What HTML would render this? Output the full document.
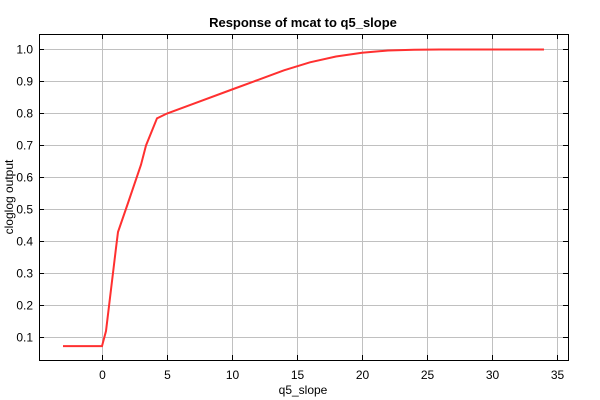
<!DOCTYPE html><html><head><style>body{margin:0;background:#fff}svg{display:block}text{font-family:"Liberation Sans",sans-serif;font-size:12px;fill:#000}</style></head><body>
<svg width="600" height="400" viewBox="0 0 600 400">
<rect width="600" height="400" fill="#fff"/>
<g stroke="#c0c0c0" stroke-width="1">
<line x1="102.5" y1="34" x2="102.5" y2="360"/><line x1="167.5" y1="34" x2="167.5" y2="360"/><line x1="232.5" y1="34" x2="232.5" y2="360"/><line x1="297.5" y1="34" x2="297.5" y2="360"/><line x1="362.5" y1="34" x2="362.5" y2="360"/><line x1="427.5" y1="34" x2="427.5" y2="360"/><line x1="492.5" y1="34" x2="492.5" y2="360"/><line x1="557.5" y1="34" x2="557.5" y2="360"/>
<line x1="39" y1="49.5" x2="568" y2="49.5"/><line x1="39" y1="81.5" x2="568" y2="81.5"/><line x1="39" y1="113.5" x2="568" y2="113.5"/><line x1="39" y1="145.5" x2="568" y2="145.5"/><line x1="39" y1="177.5" x2="568" y2="177.5"/><line x1="39" y1="209.5" x2="568" y2="209.5"/><line x1="39" y1="241.5" x2="568" y2="241.5"/><line x1="39" y1="273.5" x2="568" y2="273.5"/><line x1="39" y1="305.5" x2="568" y2="305.5"/><line x1="39" y1="337.5" x2="568" y2="337.5"/>
</g>
<rect x="39.5" y="34.5" width="529" height="326" fill="none" stroke="#000"/>
<g stroke="#000">
<path d="M102.5 360v-5M167.5 360v-5M232.5 360v-5M297.5 360v-5M362.5 360v-5M427.5 360v-5M492.5 360v-5M557.5 360v-5M102.5 34v5M167.5 34v5M232.5 34v5M297.5 34v5M362.5 34v5M427.5 34v5M492.5 34v5M557.5 34v5"/>
<path d="M39 49.5h5M39 81.5h5M39 113.5h5M39 145.5h5M39 177.5h5M39 209.5h5M39 241.5h5M39 273.5h5M39 305.5h5M39 337.5h5M568 49.5h-5M568 81.5h-5M568 113.5h-5M568 145.5h-5M568 177.5h-5M568 209.5h-5M568 241.5h-5M568 273.5h-5M568 305.5h-5M568 337.5h-5"/>
</g>
<polyline fill="none" stroke="#ff3030" stroke-width="2" points="63,346.1 102,346.1 106,331 111,289.5 116,248 118,232 128,203 141,164.7 146,145.5 157,118.3 167,113.5 193,103.9 232,89.5 258,79.9 284,70.3 310,62.3 336,56.5 362,52.7 388,50.5 414,49.7 440,49.5 544,49.5"/>
<g text-anchor="end"><text x="33" y="53.5">1.0</text><text x="33" y="85.5">0.9</text><text x="33" y="117.5">0.8</text><text x="33" y="149.5">0.7</text><text x="33" y="181.5">0.6</text><text x="33" y="213.5">0.5</text><text x="33" y="245.5">0.4</text><text x="33" y="277.5">0.3</text><text x="33" y="309.5">0.2</text><text x="33" y="341.5">0.1</text></g>
<g text-anchor="middle"><text x="102.5" y="379">0</text><text x="167.5" y="379">5</text><text x="232.5" y="379">10</text><text x="297.5" y="379">15</text><text x="362.5" y="379">20</text><text x="427.5" y="379">25</text><text x="492.5" y="379">30</text><text x="557.5" y="379">35</text>
<text x="303" y="394">q5_slope</text>
<text x="303" y="27" style="font-weight:bold;font-size:13px">Response of mcat to q5_slope</text>
<text transform="translate(13,197) rotate(-90)">cloglog output</text></g>
</svg></body></html>
